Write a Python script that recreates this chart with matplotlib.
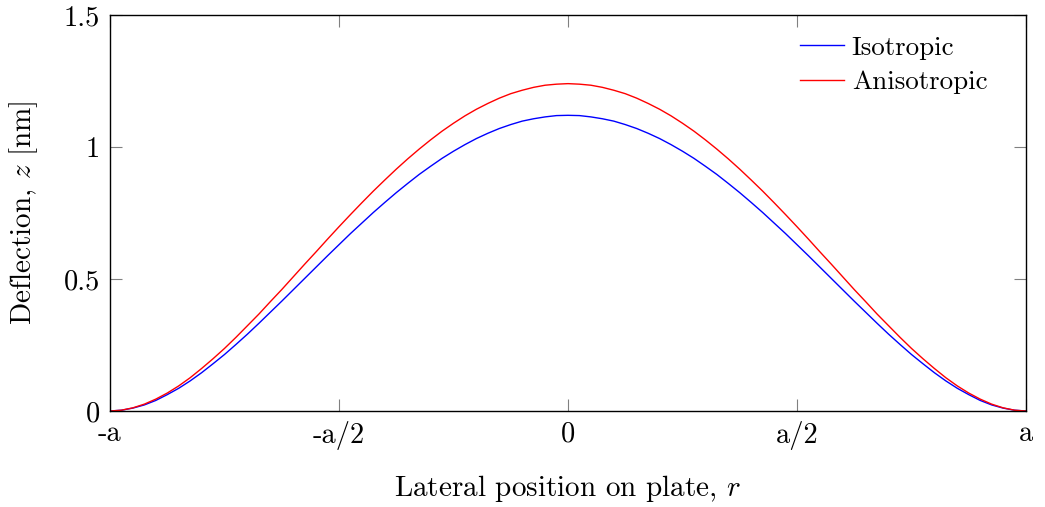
import matplotlib
matplotlib.use("Agg")
import matplotlib.pyplot as plt

# Data (position in units of plate radius a), right half; mirrored
half_pos = [0.000, 0.025, 0.050, 0.075, 0.100, 0.125, 0.150, 0.175, 0.200, 0.225,
            0.250, 0.275, 0.300, 0.325, 0.350, 0.375, 0.400, 0.425, 0.450, 0.475,
            0.500, 0.525, 0.550, 0.575, 0.600, 0.625, 0.650, 0.675, 0.700, 0.725,
            0.750, 0.775, 0.800, 0.825, 0.850, 0.875, 0.900, 0.925, 0.950, 0.975, 1.000]
half_iso = [1.120, 1.119, 1.114, 1.107, 1.098, 1.085, 1.070, 1.052, 1.032, 1.009,
            0.984, 0.957, 0.927, 0.896, 0.862, 0.827, 0.790, 0.752, 0.712, 0.672,
            0.630, 0.588, 0.545, 0.502, 0.459, 0.416, 0.374, 0.332, 0.291, 0.252,
            0.214, 0.179, 0.145, 0.114, 0.086, 0.062, 0.040, 0.023, 0.011, 0.003, 0.000]
half_aniso = [1.240, 1.238, 1.234, 1.226, 1.215, 1.202, 1.185, 1.165, 1.143, 1.118,
              1.090, 1.060, 1.027, 0.992, 0.955, 0.916, 0.875, 0.833, 0.789, 0.744,
              0.698, 0.651, 0.603, 0.556, 0.508, 0.460, 0.414, 0.367, 0.323, 0.279,
              0.237, 0.198, 0.161, 0.126, 0.095, 0.068, 0.045, 0.026, 0.012, 0.003, 0.000]

r_pos = [-p for p in half_pos[::-1]] + half_pos[1:]
isotropic = half_iso[::-1] + half_iso[1:]
anisotropic = half_aniso[::-1] + half_aniso[1:]

x_ticks = [-1.0, -0.5, 0.0, 0.5, 1.0]
x_ticklabels = ["-a", "-a/2", "0", "a/2", "a"]
y_ticks = [0, 0.5, 1, 1.5]
y_ticklabels = ["0", "0.5", "1", "1.5"]

plt.rcParams["font.family"] = ["cmr10", "DejaVu Serif"]
plt.rcParams["mathtext.fontset"] = "cm"
plt.rcParams["axes.unicode_minus"] = False
plt.rcParams["axes.formatter.use_mathtext"] = True

FS = 20.5
LFS = 21
LEGFS = 19.4

fig = plt.figure(figsize=(10.45, 5.07), dpi=100)
ax = fig.add_axes([110/1045, 96/507, 916/1045, 396/507])

ax.plot(r_pos, isotropic, color=(0, 0, 1), lw=1.0, label="Isotropic")
ax.plot(r_pos, anisotropic, color=(1, 0, 0), lw=1.0, label="Anisotropic")

ax.set_xlim(-1, 1)
ax.set_ylim(0, 1.5)
ax.set_xticks(x_ticks)
ax.set_xticklabels(x_ticklabels)
ax.set_yticks(y_ticks)
ax.set_yticklabels(y_ticklabels)

ax.tick_params(direction="in", length=8.5, width=0.8, color="#808080",
               top=True, right=True, labelsize=FS, pad=7)
for s in ax.spines.values():
    s.set_linewidth(1.0)
    s.set_color("black")

ax.set_xlabel("Lateral position on plate, $r$", fontsize=LFS, labelpad=17)
ax.set_ylabel("Deflection, $z$ [nm]", fontsize=LFS, labelpad=17)

leg = ax.legend(loc="upper left", frameon=False, fontsize=LEGFS,
                handlelength=1.65, handletextpad=0.27, labelspacing=0.4,
                borderpad=0.0, borderaxespad=0.0,
                bbox_to_anchor=((800 - 110) / 916, (411 - 36) / 396))

fig.savefig("out.png", dpi=100)
